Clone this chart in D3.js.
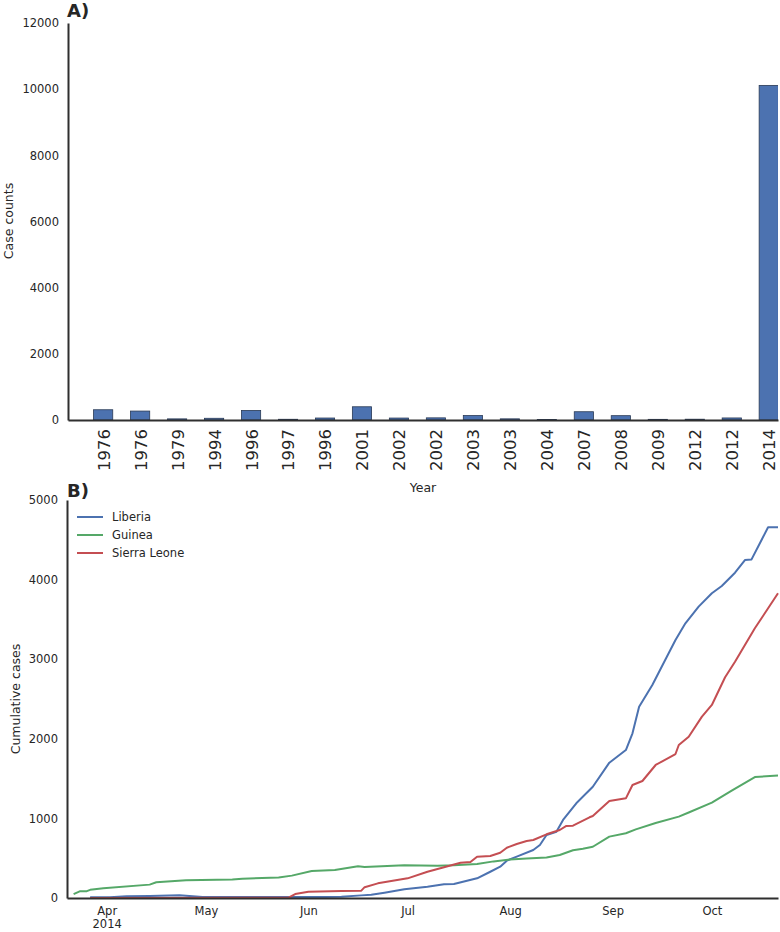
<!DOCTYPE html>
<html>
<head>
<meta charset="utf-8">
<script src="https://cdn.jsdelivr.net/npm/d3@7"></script>
<style>
  body { margin: 0; background: #fff; }
  svg { display: block; font-family: "DejaVu Sans", sans-serif; }
</style>
</head>
<body>
<svg id="chart" width="780" height="932"></svg>
<script>
// ---------- Panel A data ----------
const outbreakYears = ["1976","1976","1979","1994","1996","1997","1996","2001","2002","2002","2003","2003","2004","2007","2008","2009","2012","2012","2014"];
const outbreakCases = [310, 270, 34, 52, 290, 22, 60, 400, 59, 65, 135, 35, 17, 250, 131, 20, 24, 62, 10114];
const caseTicks = [0, 2000, 4000, 6000, 8000, 10000, 12000];

// ---------- Panel B data ----------
const liberiaDates = ["03-27","04-02","04-07","04-14","04-23","04-30","05-14","06-06","06-11","06-17","06-20","06-24","06-30","07-07","07-12","07-15","07-22","07-26","07-29","07-31","08-03","08-08","08-10","08-12","08-15","08-17","08-21","08-26","08-31","09-05","09-07","09-09","09-13","09-17","09-20","09-23","09-27","10-01","10-04","10-08","10-11","10-13","10-18","10-21"];
const liberiaCases = [8,10,21,26,34,13,12,13,17,33,41,67,109,142,172,176,247,330,393,469,519,603,666,791,833,980,1190,1398,1700,1859,2069,2403,2676,3000,3241,3451,3660,3828,3920,4087,4246,4254,4657,4657];

const guineaDates = ["03-22","03-24","03-26","03-27","03-29","03-31","04-14","04-16","04-25","05-09","05-12","05-23","05-27","06-02","06-09","06-16","06-18","06-30","07-10","07-15","07-22","07-27","08-01","08-06","08-12","08-16","08-20","08-23","08-26","08-31","09-05","09-08","09-14","09-21","09-24","10-01","10-07","10-14","10-21"];
const guineaCases = [49,86,86,103,112,122,168,197,224,231,242,258,281,340,352,398,390,411,406,411,427,460,485,495,510,540,600,620,644,771,813,862,942,1022,1074,1199,1350,1519,1540];

const sierraDates = ["03-27","05-26","05-28","06-01","06-11","06-17","06-18","06-22","07-01","07-07","07-12","07-17","07-20","07-22","07-26","07-29","07-31","08-03","08-06","08-08","08-12","08-16","08-18","08-20","08-25","08-26","08-31","09-05","09-07","09-10","09-14","09-20","09-21","09-24","09-28","10-01","10-05","10-08","10-14","10-21"];
const sierraCases = [0,4,50,79,88,92,136,184,247,330,386,443,452,519,528,569,632,678,716,729,800,854,905,909,1014,1030,1219,1252,1420,1470,1671,1809,1922,2026,2278,2425,2773,2969,3388,3828];

const seriesNames = ["Liberia", "Guinea", "Sierra Leone"];
const seriesColors = ["#4c72b0", "#55a868", "#c44e52"];
const cumTicks = [0, 1000, 2000, 3000, 4000, 5000];
const monthTicks = ["2014-04-01","2014-05-01","2014-06-01","2014-07-01","2014-08-01","2014-09-01","2014-10-01"];
const monthLabels = ["Apr","May","Jun","Jul","Aug","Sep","Oct"];

// ---------- Drawing ----------
const svg = d3.select("#chart");
const textColor = "#262626";
const spineColor = "#2f2f2f";
const parse = d3.timeParse("%Y-%m-%d");

// Panel A
const A = { left: 68, right: 778, top: 23, bottom: 420 };
const xA = d3.scaleLinear().domain([-0.95, outbreakYears.length - 0.75]).range([A.left, A.right]);
const barW = (xA(1) - xA(0)) * 0.52;
const yA = d3.scaleLinear().domain([0, 12000]).range([A.bottom, A.top]);

const gA = svg.append("g");
gA.append("clipPath").attr("id", "clipA").append("rect")
  .attr("x", A.left).attr("y", 0).attr("width", A.right - A.left).attr("height", A.bottom + 1);
gA.append("g").attr("clip-path", "url(#clipA)")
  .selectAll("rect.bar").data(outbreakCases).join("rect")
  .attr("class", "bar")
  .attr("x", (d, i) => xA(i) - barW / 2)
  .attr("width", barW)
  .attr("y", d => yA(d))
  .attr("height", d => yA(0) - yA(d))
  .attr("fill", "#4c72b0")
  .attr("stroke", "#2a3a55")
  .attr("stroke-width", 0.8);

const axAy = gA.append("g").attr("transform", `translate(${A.left},0)`)
  .call(d3.axisLeft(yA).tickValues(caseTicks).tickSize(0).tickPadding(9).tickFormat(d3.format("d")));
const axAx = gA.append("g").attr("transform", `translate(0,${A.bottom})`)
  .call(d3.axisBottom(xA).tickValues(d3.range(outbreakYears.length)).tickSize(0).tickFormat(i => outbreakYears[i]));
axAx.selectAll("text")
  .attr("transform", "rotate(-90)")
  .attr("text-anchor", "end")
  .attr("x", -9).attr("y", 0).attr("dy", "0.36em")
  .style("font-size", "16.5px");

[axAy, axAx].forEach(a => {
  a.select(".domain").attr("stroke", spineColor).attr("stroke-width", 2);
  a.selectAll("text").attr("fill", textColor).style("font-family", "DejaVu Sans");
});
axAy.selectAll("text").style("font-size", "11.5px");

svg.append("text").attr("x", 67).attr("y", 17).text("A)")
  .attr("fill", textColor).style("font-size", "18px").style("font-weight", "bold");
svg.append("text").attr("transform", "translate(13,221) rotate(-90)")
  .attr("text-anchor", "middle").attr("fill", textColor).style("font-size", "12.5px").text("Case counts");
svg.append("text").attr("x", 423).attr("y", 492)
  .attr("text-anchor", "middle").attr("fill", textColor).style("font-size", "12.5px").text("Year");

// Panel B
const B = { left: 67, right: 778, top: 500, bottom: 898 };
const xB = d3.scaleTime().domain([parse("2014-03-20"), parse("2014-10-21")]).range([B.left, B.right]);
const yB = d3.scaleLinear().domain([0, 5000]).range([B.bottom, B.top]);

const series = [
  { dates: liberiaDates, vals: liberiaCases },
  { dates: guineaDates, vals: guineaCases },
  { dates: sierraDates, vals: sierraCases }
].map((s, k) => ({
  name: seriesNames[k], color: seriesColors[k],
  pts: s.dates.map((d, i) => ({ date: parse("2014-" + d), v: s.vals[i] }))
}));

const line = d3.line().x(d => xB(d.date)).y(d => yB(d.v));
const gB = svg.append("g");
gB.selectAll("path.series").data(series).join("path")
  .attr("class", "series")
  .attr("d", s => line(s.pts))
  .attr("fill", "none")
  .attr("stroke", s => s.color)
  .attr("stroke-width", 2)
  .attr("stroke-linejoin", "round");

const axBy = gB.append("g").attr("transform", `translate(${B.left},0)`)
  .call(d3.axisLeft(yB).tickValues(cumTicks).tickSize(0).tickPadding(9).tickFormat(d3.format("d")));
const axBx = gB.append("g").attr("transform", `translate(0,${B.bottom})`)
  .call(d3.axisBottom(xB).tickValues(monthTicks.map(parse)).tickSize(0).tickPadding(9)
    .tickFormat((d, i) => monthLabels[i]));
axBx.selectAll(".tick").filter((d, i) => i === 0).append("text")
  .attr("y", 22).attr("dy", "0.71em").attr("text-anchor", "middle").text("2014");

[axBy, axBx].forEach(a => {
  a.select(".domain").attr("stroke", spineColor).attr("stroke-width", 2);
  a.selectAll("text").attr("fill", textColor).style("font-size", "11.5px").style("font-family", "DejaVu Sans");
});

svg.append("text").attr("x", 67).attr("y", 497).text("B)")
  .attr("fill", textColor).style("font-size", "18px").style("font-weight", "bold");
svg.append("text").attr("transform", "translate(20,699) rotate(-90)")
  .attr("text-anchor", "middle").attr("fill", textColor).style("font-size", "12.5px").text("Cumulative cases");

// Legend
const leg = svg.append("g").attr("transform", "translate(77,517)");
const legItems = leg.selectAll("g").data(series).join("g")
  .attr("transform", (d, i) => `translate(0,${i * 18})`);
legItems.append("line").attr("x1", 0).attr("x2", 26).attr("y1", 0).attr("y2", 0)
  .attr("stroke", d => d.color).attr("stroke-width", 2);
legItems.append("text").attr("x", 35).attr("y", 0).attr("dy", "0.35em")
  .attr("fill", textColor).style("font-size", "11.5px").text(d => d.name);
</script>
</body>
</html>
